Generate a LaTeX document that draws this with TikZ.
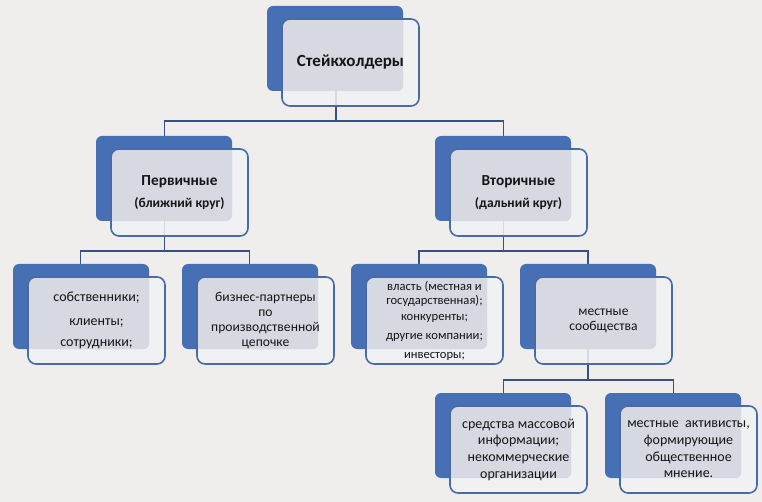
\documentclass[tikz,border=0pt]{standalone}
\usepackage{fontspec}
\setmainfont{Carlito}
\definecolor{bgc}{HTML}{EFEEEC}
\definecolor{backblue}{HTML}{4770B4}
\definecolor{edgeblue}{HTML}{4A6AA5}
\definecolor{overlapc}{HTML}{D6D9E1}
\definecolor{frontc}{HTML}{F1F2F5}
\definecolor{connc}{HTML}{3A5080}
\definecolor{txt}{HTML}{151515}
\tikzset{
  backbox/.style={rectangle, rounded corners=6pt, fill=backblue, minimum width=136pt, minimum height=85pt, inner sep=0pt},
  frontbox/.style={rectangle, rounded corners=8pt, draw=edgeblue, line width=1.6pt, fill=frontc, fill opacity=0.85, text opacity=1, minimum width=137pt, minimum height=87pt, inner sep=0pt, align=center, text=txt, font=\fontsize{13.6}{15}\selectfont},
  conn/.style={draw=connc, line width=1.8pt},
}
\newcommand\pairbox[5][]{%
  \node[backbox] (#2b) at (#3+68,#4+42.5) {};
  \node[frontbox, #1, path picture={\fill[overlapc, fill opacity=1, rounded corners=6pt] (#2b.north west) rectangle (#2b.south east);}] (#2) at (#3+83.5,#4+56.5) {#5};
}
\begin{document}
\begin{tikzpicture}[x=1pt,y=-1pt]
\fill[bgc] (0,0) rectangle (762,502);
\useasboundingbox (0,0) rectangle (762,502);
% connectors (behind)
\coordinate (bar1) at (0,121);
\coordinate (bar2) at (0,251);
\coordinate (bar3) at (0,380);
\coordinate (topc) at (336,49);
\coordinate (primc) at (164.5,179);
\coordinate (secc) at (503.5,179);
\coordinate (locc) at (588,306);
\draw[conn] (topc) -- (topc |- bar1) -| (primc);
\draw[conn] (topc |- bar1) -| (secc);
\draw[conn] (primc) -- (primc |- bar2) -| (80.5,306) coordinate (o1c);
\draw[conn] (primc |- bar2) -| (249.5,306) coordinate (o2c);
\draw[conn] (secc) -- (secc |- bar2) -| (419,306) coordinate (o3c);
\draw[conn] (secc |- bar2) -| (locc);
\draw[conn] (locc) -- (locc |- bar3) -| (503.5,435) coordinate (o5c);
\draw[conn] (locc |- bar3) -| (673.5,435) coordinate (o6c);
% boxes
\pairbox[font=\fontsize{17}{20}\selectfont\bfseries]{top}{267}{6}{Стейкхолдеры}
\pairbox{prim}{96}{136}{{\fontsize{15.3}{18}\selectfont\bfseries Первичные}\\[7pt]{\fontsize{13.5}{15}\selectfont\bfseries (ближний круг)}}
\pairbox{sec}{435}{136}{{\fontsize{15.3}{18}\selectfont\bfseries Вторичные}\\[7pt]{\fontsize{13.5}{15}\selectfont\bfseries (дальний круг)}}
\pairbox[font=\fontsize{14}{16}\selectfont]{own}{13}{264}{собственники;\\[8pt]клиенты;\\[5pt]сотрудники;}
\pairbox{partn}{182}{264}{бизнес-партнеры\\по\\производственной\\цепочке}
\pairbox[font=\fontsize{12.6}{14}\selectfont]{auth}{351}{264}{власть (местная и\\государственная);\\[2pt]конкуренты;\\[5pt]другие компании;\\[5pt]инвесторы;}
\pairbox{loc}{520}{264}{местные\\сообщества}
\pairbox[font=\fontsize{14}{16.7}\selectfont]{media}{435}{393}{средства массовой\\информации;\\некоммерческие\\организации}
\pairbox[font=\fontsize{14}{16.7}\selectfont]{activ}{605}{393}{местные\ \ активисты,\\формирующие\\общественное\\мнение.}
\end{tikzpicture}
\end{document}
